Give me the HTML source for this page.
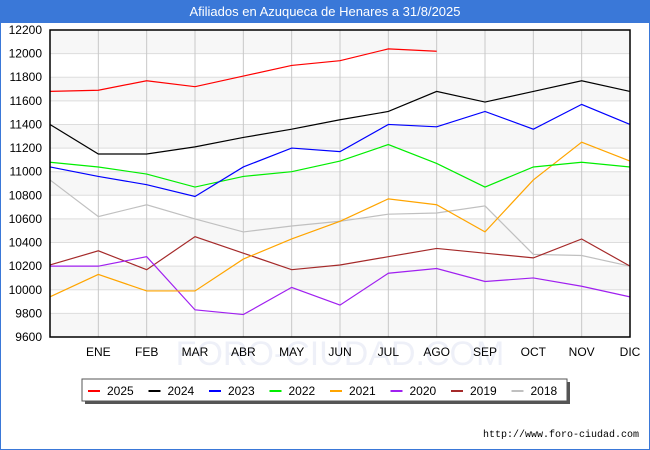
<!DOCTYPE html>
<html><head><meta charset="utf-8"><style>
body{margin:0;background:#fff;font-family:"Liberation Sans",sans-serif}
#wrap{position:relative;width:648px;height:448px;border:1px solid #3a78d8;background:#fff}
#title{position:absolute;left:0;top:0;width:648px;height:22px;background:#3a78d8;color:#fff;font-size:13px;line-height:22px;text-align:center}
svg{position:absolute;left:-1px;top:-1px}
</style></head><body>
<div id="wrap">
<div id="title">Afiliados en Azuqueca de Henares a 31/8/2025</div>
<svg id="chart" width="650" height="450"></svg>
</div>
<script>
const categories=["","ENE","FEB","MAR","ABR","MAY","JUN","JUL","AGO","SEP","OCT","NOV","DIC"];
const yTicks=[9600,9800,10000,10200,10400,10600,10800,11000,11200,11400,11600,11800,12000,12200];
const seriesNames=["2025","2024","2023","2022","2021","2020","2019","2018"];
const seriesColors=["#ff0000","#000000","#0000ff","#00ee00","#ffa500","#a020f0","#a52a2a","#c0c0c0"];
const s2025=[11680,11690,11770,11720,11810,11900,11940,12040,12020];
const s2024=[11400,11150,11150,11210,11290,11360,11440,11510,11680,11590,11680,11770,11680];
const s2023=[11040,10960,10890,10790,11040,11200,11170,11400,11380,11510,11360,11570,11400];
const s2022=[11080,11040,10980,10870,10960,11000,11090,11230,11070,10870,11040,11080,11040];
const s2021=[9940,10130,9990,9990,10260,10430,10580,10770,10720,10490,10930,11250,11090];
const s2020=[10200,10200,10280,9830,9790,10020,9870,10140,10180,10070,10100,10030,9940];
const s2019=[10210,10330,10170,10450,10310,10170,10210,10280,10350,10310,10270,10430,10200];
const s2018=[10930,10620,10720,10600,10490,10540,10580,10640,10650,10710,10300,10290,10200];
const allSeries=[s2025,s2024,s2023,s2022,s2021,s2020,s2019,s2018];
const L=50,R=630,T=30,B=337,yMin=9600,yMax=12200;
const xS=i=>L+i*(R-L)/(categories.length-1);
const yS=v=>B-(v-yMin)/(yMax-yMin)*(B-T);
const svg=document.getElementById('chart');const NS="http://www.w3.org/2000/svg";
function mk(t,a,txt){const e=document.createElementNS(NS,t);for(const k in a)e.setAttribute(k,a[k]);if(txt!==undefined)e.textContent=txt;svg.appendChild(e);return e;}
for(let i=0;i<yTicks.length-1;i++){if(i%2===0){const r=mk('rect',{x:L,y:yS(yTicks[i+1]),width:R-L,height:yS(yTicks[i])-yS(yTicks[i+1]),fill:'#f7f7f7'});

}}
const wm=mk('text',{x:340,y:365,'font-size':34,fill:'#eef0f8','text-anchor':'middle','font-family':'Liberation Sans'},'FORO-CIUDAD.COM');


yTicks.forEach(v=>{const y=yS(v);const g=mk('line',{x1:L,x2:R,y1:y,y2:y,stroke:'#dddddd','stroke-width':1});


const t=mk('text',{x:L-8,y:y+4,'font-size':12,'text-anchor':'end',fill:'#000'},v);

});
categories.forEach((c,i)=>{const x=xS(i);if(i>0){const g=mk('line',{x1:x,x2:x,y1:T,y2:B,stroke:'#c8c8c8','stroke-width':1});

}
const t=mk('text',{x:x,y:356,'font-size':12,'text-anchor':'middle',fill:'#000'},c);

});
allSeries.slice().reverse().forEach((s,ri)=>{const k=allSeries.length-1-ri;const p=s.map((v,i)=>xS(i)+','+yS(v)).join(' ');
const pl=mk('polyline',{points:p,fill:'none',stroke:seriesColors[k],'stroke-width':1.2});

});
const ax=mk('rect',{x:L,y:T,width:R-L,height:B-T,fill:'none',stroke:'#000','stroke-width':1.5});


const sh=mk('rect',{x:85,y:382,width:485,height:22,fill:'#555'});


const lb=mk('rect',{x:82,y:379,width:485,height:22,fill:'#fff',stroke:'#555','stroke-width':1});


seriesNames.forEach((n,i)=>{const x0=88+i*60.5;const l=mk('line',{x1:x0,x2:x0+12,y1:391,y2:391,stroke:seriesColors[i],'stroke-width':2});


const t=mk('text',{x:x0+19,y:395,'font-size':12,fill:'#000'},n);

});
const u=mk('text',{x:639,y:437,'font-size':10,'text-anchor':'end',fill:'#000','font-family':'Liberation Mono'},'http://www.foro-ciudad.com');


</script>
</body></html>
